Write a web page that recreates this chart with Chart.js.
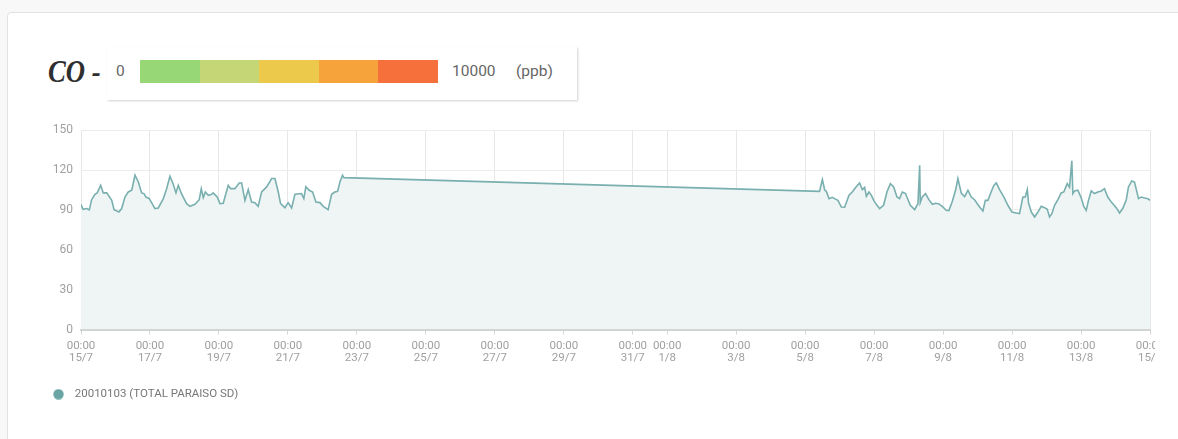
<!DOCTYPE html>
<html>
<head>
<meta charset="utf-8">
<script src="https://cdn.jsdelivr.net/npm/chart.js@4"></script>
<style>
  html, body { margin: 0; padding: 0; }
  body { width: 1178px; height: 439px; background: #f8f8f8; position: relative; overflow: hidden; font-family: Roboto, "Noto Sans", sans-serif; }
  .card { position: absolute; left: 7px; top: 12px; width: 1200px; height: 440px; background: #fff; border: 1px solid #e2e2e2; border-radius: 4px; }
  .title { position: absolute; left: 48px; top: 54px; font: italic bold 31px "Liberation Serif", serif; color: #2f2f2f; transform: scaleX(0.86); transform-origin: left center; }
  .scale { position: absolute; left: 107px; top: 47px; width: 470px; height: 53px; background: #fff; box-shadow: 1px 1px 2px rgba(0,0,0,0.18); }
  .scale span { position: absolute; top: 15px; font-size: 15.5px; color: #666; }
  .bar { position: absolute; left: 33px; top: 13px; height: 23px; display: flex; }
  .bar i { display: block; width: 59.6px; height: 23px; }
  #wrap { position: absolute; left: 0; top: 115px; width: 1155px; height: 295px; }
</style>
</head>
<body>
<div class="card"></div>
<div class="title">CO -</div>
<div class="scale">
  <span style="left:9px">0</span>
  <div class="bar" id="bar"></div>
  <span style="left:345px">10000</span>
  <span style="left:409px">(ppb)</span>
</div>
<div id="wrap"><canvas id="c"></canvas></div>
<script>
// colour scale of the header
const scaleColors = ['#98d775', '#c5d677', '#ecc94a', '#f5a33a', '#f6703c'];

// x ticks: hours since 15/7 00:00
const tickHours = [0, 48, 96, 144, 192, 240, 288, 336, 384, 408, 456, 504, 552, 600, 648, 696, 744];
const tickDates = ['15/7', '17/7', '19/7', '21/7', '23/7', '25/7', '27/7', '29/7', '31/7', '1/8', '3/8', '5/8', '7/8', '9/8', '11/8', '13/8', '15/8'];

const seriesName = '20010103 (TOTAL PARAISO SD)';

// measurement times (hours since 15/7 00:00) and CO values
const hours = [
  0, 1.4, 4, 5.8, 7.4, 9.7, 11.3, 13.7, 15.5, 17.9, 21.4, 23, 26.4, 28.3, 30.6, 32.9, 35.3, 37.6, 39.9, 42.2,
  43.8, 45.2, 47.5, 51.5, 53.8, 57.3, 59.6, 61.9, 64.2, 66.1, 67.7, 70.1, 73.5, 75.8, 79.3, 82.3, 83.7, 85.1, 86.5, 88.6,
  90.9, 92, 94.8, 96.7, 99, 100.2, 102.5, 104.1, 107.1, 110.1, 111.8, 114.1, 116.4, 118.7, 121, 123.3, 125.7, 129.2, 132.7, 135,
  137.3, 138.9, 141.9, 144.2, 146.6, 148.9, 153.5, 155.1, 156.5, 158.8, 161.2, 163.5, 166.3, 168.6, 172, 174.4, 176.7, 178.6, 180.2, 182,
  183,
  514, 516, 517.6, 518.7, 520.6, 522.9, 524.5, 526.8, 529.2, 531.5, 534.5, 536.8, 539.1, 541.9, 543.8, 545.4, 546.6, 548.4, 550.1, 551.7,
  553.5, 555.8, 558.6, 560.9, 563.3, 565.6, 567.9, 569.7, 571.6, 573.9, 574.8, 577.2, 580.2, 582.5, 583.7, 584.1, 585.5, 587.8, 590.1, 592.5,
  594.8, 597.1, 599.4, 602.2, 604, 606.4, 608.7, 610.3, 612.7, 615, 617.3, 619.6, 621.9, 625.4, 627.7, 629.4, 631.2, 633, 635.3, 637,
  639.3, 642.3, 645.1, 647.9, 650.9, 653.2, 655.5, 657.2, 658.6, 659.5, 661.4, 663.7, 666, 668.3, 670.6, 672.5, 674.1, 675.7, 677.6, 679.9,
  682.2, 684, 686.4, 688, 689.6, 690.3, 691.5, 693.8, 696.1, 697.9, 699.6, 701.2, 703.1, 705.4, 707.7, 710.1, 712.3, 714.6, 717.4, 720.5,
  722.8, 725.1, 727.5, 729, 731.3, 733.2, 735, 736, 737.9, 740.2, 742.5, 744
];
const coValues = [
  94, 90.4, 91, 90, 97.7, 101.8, 102.8, 108.5, 102.8, 102.8, 97.2, 90.2, 88.4, 91, 99.7, 103.5, 104.8, 116.1, 111, 102.8,
  102.3, 99.7, 98.5, 91, 91.5, 98.5, 106, 115.3, 109.3, 102.8, 108.5, 101.8, 94.7, 92.7, 94.2, 97.7, 106, 99.3, 103.5, 101,
  101.8, 102.8, 99.7, 94.7, 95, 99.7, 108.5, 106, 106, 110.3, 110.3, 97.2, 105.3, 96, 95.5, 92.7, 103.5, 107.3, 113.6, 113.6,
  103.5, 94.7, 91.7, 95.5, 91.5, 101.8, 102.3, 98.5, 107.5, 104.8, 103.5, 96, 95.5, 92.7, 90.2, 101.8, 103.5, 104, 111, 116.1,
  114.3,
  104, 112.8, 105, 104, 98.5, 99.5, 98.5, 97.2, 92.2, 92, 101, 103.5, 106.8, 110.3, 105.3, 107, 100.3, 103.5, 101, 97.2,
  94.2, 91, 93.5, 103.5, 109.8, 107.3, 99.7, 98.5, 103.5, 102.3, 99.7, 93.5, 90.2, 94.7, 123.6, 95.5, 99.7, 102.3, 97.7, 94.2,
  95, 94.5, 92.7, 89.7, 89.5, 96.3, 105, 113.6, 102.5, 100, 104.8, 99.7, 97.7, 92.2, 89.2, 97.2, 97.2, 102.3, 108.5, 110.3,
  105.3, 99.7, 93.5, 88.4, 87.7, 87.2, 99.7, 99.7, 105.3, 95, 88.4, 84.7, 88.4, 92.7, 91.7, 90.5, 84.7, 87.2, 93.5, 97.7,
  102.8, 103.5, 109.8, 107, 126.9, 102.3, 104.3, 104.8, 99.2, 92.7, 89.7, 97.2, 104.3, 102.3, 103.5, 104.3, 106, 99.7, 95.5, 91.7,
  87.7, 91.2, 97.7, 107.3, 111.8, 111, 103, 98.5, 99.7, 99, 98.5, 97.2
];

const bar = document.getElementById('bar');
scaleColors.forEach(c => {
  const i = document.createElement('i');
  i.style.background = c;
  bar.appendChild(i);
});

// legend dot, drawn once on a small canvas
const dot = document.createElement('canvas');
dot.width = 11; dot.height = 11;
const dctx = dot.getContext('2d');
dctx.fillStyle = '#6aa5a5';
dctx.beginPath();
dctx.arc(5.5, 5.5, 5.2, 0, Math.PI * 2);
dctx.fill();

const points = hours.map((h, i) => ({ x: h, y: coValues[i] }));

new Chart(document.getElementById('c'), {
  type: 'line',
  data: {
    datasets: [{
      label: seriesName,
      data: points,
      borderColor: '#79afaf',
      backgroundColor: '#eef5f4',
      borderWidth: 1.6,
      pointRadius: 0,
      fill: 'origin',
      tension: 0
    }]
  },
  options: {
    responsive: true,
    maintainAspectRatio: false,
    animation: false,
    parsing: false,
    layout: { padding: { left: 43, top: 15, right: 5, bottom: 0 } },
    scales: {
      x: {
        type: 'linear',
        min: 0,
        max: 744,
        afterBuildTicks: axis => { axis.ticks = tickHours.map(v => ({ value: v })); },
        afterFit: axis => { axis.height = 54; axis.paddingLeft = 0; axis.paddingRight = 0; },
        ticks: {
          autoSkip: false,
          maxRotation: 0,
          padding: 5,
          color: '#a0a0a0',
          font: { family: 'Roboto', size: 11.5, lineHeight: 1.1 },
          callback: (v, i) => ['00:00', tickDates[i]]
        },
        grid: { color: '#e7e7e7', tickColor: '#d6d6d6', tickLength: 5 },
        border: { color: '#d2d2d2', width: 2 }
      },
      y: {
        min: 0,
        max: 150,
        afterFit: axis => { axis.width = 38; },
        ticks: {
          stepSize: 30,
          padding: 8,
          color: '#a0a0a0',
          font: { family: 'Roboto', size: 12 }
        },
        grid: { color: '#ececec', drawTicks: false },
        border: { display: false }
      }
    },
    plugins: {
      tooltip: { enabled: false },
      legend: {
        position: 'bottom',
        align: 'start',
        labels: {
          usePointStyle: true,
          pointStyle: dot,
          pointStyleWidth: 21,
          boxHeight: 11,
          padding: 5,
          color: '#777',
          font: { family: 'Roboto', size: 11.5 },
          generateLabels: chart => Chart.defaults.plugins.legend.labels.generateLabels(chart)
            .map(l => ({ ...l, pointStyle: dot, lineWidth: 0 }))
        }
      }
    }
  }
});
</script>
</body>
</html>
